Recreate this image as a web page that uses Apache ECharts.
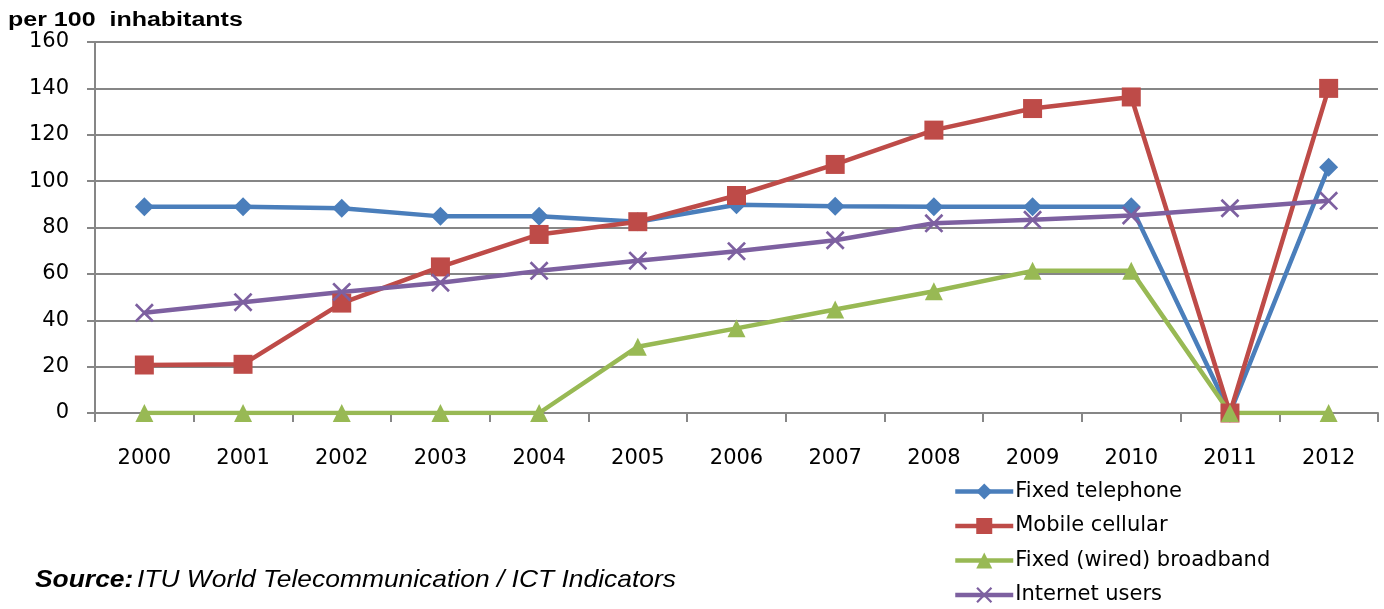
<!DOCTYPE html>
<html><head><meta charset="utf-8">
<script src="https://cdn.jsdelivr.net/npm/echarts@6/dist/echarts.min.js"></script>
<style>html,body{margin:0;padding:0;background:#fff}#c{width:1384px;height:609px}</style>
</head><body><div id="c"></div>
<script>
const years = ['2000','2001','2002','2003','2004','2005','2006','2007','2008','2009','2010','2011','2012'];
const fixedTelephone = [89, 89, 88.3, 84.8, 84.8, 82.5, 89.8, 89.2, 89, 89, 89, 0, 106];
const mobileCellular = [20.7, 21, 47.4, 63, 77, 82.5, 93.8, 107.2, 122, 131.3, 136.3, 0, 140];
const fixedBroadband = [0, 0, 0, 0, 0, 28.6, 36.5, 44.6, 52.5, 61.3, 61.3, 0, 0];
const internetUsers = [43.2, 47.8, 52.2, 56.2, 61.3, 65.7, 69.8, 74.5, 81.8, 83.3, 85.2, 88.3, 91.5];
const yTicks = {min: 0, max: 160, interval: 20};

const chart = echarts.init(document.getElementById('c'));
const crossPath = 'path://M0,1L1,0L5,4L9,0L10,1L6,5L10,9L9,10L5,6L1,10L0,9L4,5Z';
function s(name, data, color, symbol, size) {
  return {name, type: 'line', data, symbol, symbolSize: size, showSymbol: true,
    lineStyle: {color, width: 4.5}, itemStyle: {color}, z: 2, animation: false};
}
chart.setOption({
  animation: false,
  textStyle: {fontFamily: 'DejaVu Sans'},
  grid: {left: 95, right: 6, top: 42, bottom: 196},
  xAxis: {type: 'category', data: years, boundaryGap: true,
    axisLine: {lineStyle: {color: '#868686', width: 2}},
    axisTick: {show: true, length: 9, lineStyle: {color: '#868686', width: 2}},
    axisLabel: {fontSize: 21, color: '#000', margin: 35, fontFamily: 'DejaVu Sans'}},
  yAxis: {type: 'value', min: yTicks.min, max: yTicks.max, interval: yTicks.interval,
    axisLine: {show: true, lineStyle: {color: '#868686', width: 2}},
    axisTick: {show: true, length: 8, lineStyle: {color: '#868686', width: 2}},
    splitLine: {lineStyle: {color: '#868686', width: 2}},
    axisLabel: {fontSize: 21, color: '#000', margin: 26, fontFamily: 'DejaVu Sans'}},
  legend: {orient: 'vertical', left: 953, top: 481, padding: 0, itemWidth: 58, itemHeight: 20, itemGap: 13.5,
    lineStyle: {width: 4.5},
    textStyle: {fontSize: 21, color: '#000', fontFamily: 'DejaVu Sans', padding: [0, 0, 0, -3]},
    data: ['Fixed telephone', 'Mobile cellular', 'Fixed (wired) broadband', 'Internet users']},
  graphic: [
    {type: 'text', x: 8, y: 10, scaleX: 1.25,
      style: {text: 'per 100  inhabitants', x: 0, y: 0, fontSize: 20, fontWeight: 'bold', fill: '#000',
        fontFamily: 'Liberation Sans', verticalAlign: 'top'}},
    {type: 'text', x: 35, y: 568, scaleX: 1.1,
      style: {text: '{b|Source:} {i|ITU World Telecommunication / ICT Indicators}', x: 0, y: 0, verticalAlign: 'top',
        rich: {b: {fontSize: 24, fontStyle: 'italic', fontWeight: 'bold', fill: '#000', fontFamily: 'Liberation Sans'},
               i: {fontSize: 24, fontStyle: 'italic', fill: '#000', fontFamily: 'Liberation Sans'}}}}],
  series: [
    s('Fixed telephone', fixedTelephone, '#4A7EBB', 'diamond', 19),
    s('Mobile cellular', mobileCellular, '#BE4B48', 'rect', 19),
    s('Fixed (wired) broadband', fixedBroadband, '#98B954', 'triangle', 18),
    s('Internet users', internetUsers, '#7D60A0', crossPath, 19)
  ]
});
</script></body></html>
